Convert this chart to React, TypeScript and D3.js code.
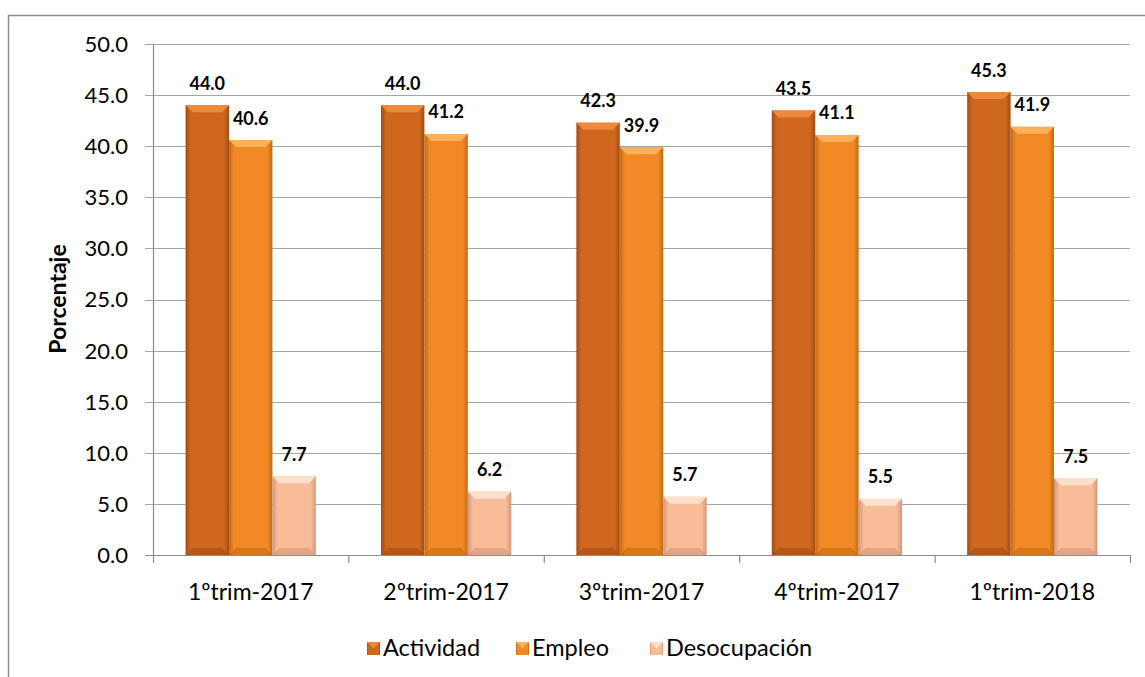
import React from "react";
import * as d3 from "d3";

const categories = ["1ºtrim-2017", "2ºtrim-2017", "3ºtrim-2017", "4ºtrim-2017", "1ºtrim-2018"];
const seriesNames = ["Actividad", "Empleo", "Desocupación"];
const actividad = [44.0, 44.0, 42.3, 43.5, 45.3];
const empleo = [40.6, 41.2, 39.9, 41.1, 41.9];
const desocupacion = [7.7, 6.2, 5.7, 5.5, 7.5];
const yTicks = [0, 5, 10, 15, 20, 25, 30, 35, 40, 45, 50];

const seriesValues = [actividad, empleo, desocupacion];
// base, light, dark
const palette = [
  ["#cf681e", "#ea8a3a", "#a24c16"],
  ["#f18a25", "#fbb05a", "#c46a18"],
  ["#f8bc98", "#fde0cc", "#d4977a"],
];

const W = 1145;
const H = 677;
const m = { left: 153, right: 1130, top: 44, bottom: 555 };
const font = "Lato, 'Open Sans', sans-serif";

const App = () => {
  const x0 = d3.scaleBand<string>().domain(categories).range([m.left, m.right]).paddingInner(0).paddingOuter(0);
  const x1 = d3.scaleBand<string>().domain(seriesNames).range([0, x0.bandwidth()]).paddingInner(0).paddingOuter(0.75);
  const y = d3.scaleLinear().domain([0, 50]).range([m.bottom, m.top]);

  const bevel = 7;

  return (
    <svg width={W} height={H} style={{ position: "absolute", left: 0, top: 0 }} fontFamily={font}>
      <defs>
        {palette.map((p, i) => (
          <linearGradient key={i} id={`g${i}`} x1="0" x2="1" y1="0" y2="0">
            <stop offset="0" stopColor={p[2]} />
            <stop offset="0.12" stopColor={p[0]} />
            <stop offset="0.88" stopColor={p[0]} />
            <stop offset="1" stopColor={p[2]} />
          </linearGradient>
        ))}
      </defs>
      <rect x={8.5} y={15.5} width={W + 20} height={H + 20} fill="white" stroke="#8c8c8c" strokeWidth={1.5} />

      {yTicks.map((t) => (
        <g key={t}>
          <line x1={m.left - 8} x2={m.right} y1={Math.round(y(t)) + 0.5} y2={Math.round(y(t)) + 0.5} stroke={t === 0 ? "#8c8c8c" : "#a6a6a6"} strokeWidth={1.2} />
          <text x={128} y={y(t)} dy="0.36em" textAnchor="end" fontSize={22} fill="#000">
            {d3.format(".1f")(t)}
          </text>
        </g>
      ))}
      <line x1={m.left + 0.5} x2={m.left + 0.5} y1={m.top} y2={m.bottom} stroke="#8c8c8c" strokeWidth={1.2} />
      {[...categories.map((c) => x0(c)!), m.right].map((xv, i) => (
        <line key={i} x1={xv + 0.5} x2={xv + 0.5} y1={m.bottom} y2={m.bottom + 8} stroke="#8c8c8c" strokeWidth={1.2} />
      ))}

      <text transform={`translate(66,${(241 + 357) / 2}) rotate(-90)`} textAnchor="middle" fontSize={23} fontWeight="bold">
        Porcentaje
      </text>

      {categories.map((c, ci) => (
        <g key={c}>
          {seriesNames.map((s, si) => {
            const v = seriesValues[si][ci];
            const bx = x0(c)! + x1(s)!;
            const bw = x1.bandwidth();
            const by = y(v);
            const bh = y(0) - by;
            const p = palette[si];
            return (
              <g key={s}>
                <rect x={bx} y={by} width={bw} height={bh} fill={`url(#g${si})`} />
                <polygon points={`${bx},${by} ${bx + bw},${by} ${bx + bw - bevel},${by + bevel} ${bx + bevel},${by + bevel}`} fill={p[1]} />
                <polygon points={`${bx},${by + bh} ${bx + bw},${by + bh} ${bx + bw - bevel},${by + bh - bevel} ${bx + bevel},${by + bh - bevel}`} fill={p[2]} opacity={0.6} />
                <text x={bx + bw / 2} y={by - 22} dy="0.36em" textAnchor="middle" fontSize={18} fontWeight="bold">
                  {d3.format(".1f")(v)}
                </text>
              </g>
            );
          })}
          <text x={x0(c)! + x0.bandwidth() / 2} y={600} textAnchor="middle" fontSize={23}>
            {c}
          </text>
        </g>
      ))}

      {seriesNames.map((s, i) => {
        const lx = [367, 516, 650][i];
        return (
          <g key={s} transform={`translate(${lx},642)`}>
            <rect width={13} height={13} fill={`url(#g${i})`} />
            <polygon points="0,0 13,0 6.5,6.5" fill={palette[i][1]} />
            <text x={16} y={14} fontSize={23.5}>
              {s}
            </text>
          </g>
        );
      })}
    </svg>
  );
};

export default App;
